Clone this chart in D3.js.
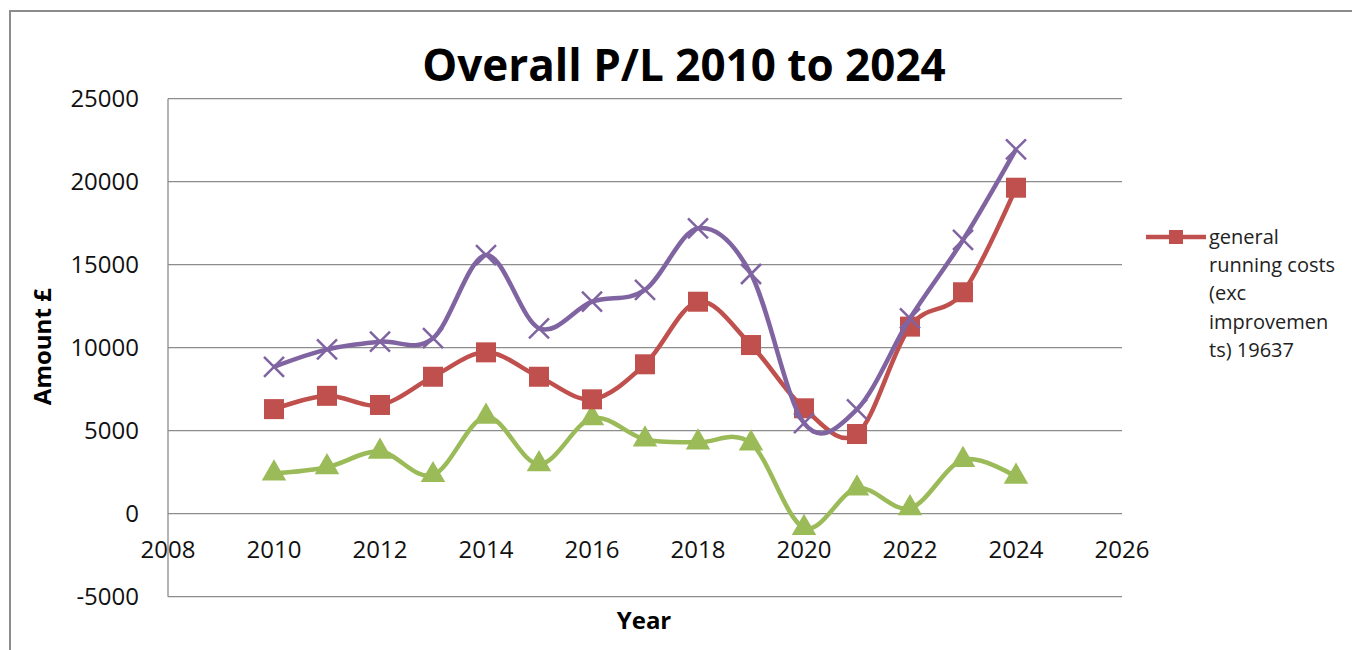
<!DOCTYPE html>
<html lang="en">
<head>
  <meta charset="UTF-8" />
  <title>Overall P/L 2010 to 2024</title>
  <style>
    body { margin: 0; background: #fff; font-family: "Open Sans", Arial, sans-serif; }
    svg { display: block; }
    .grid line { stroke: #8c8c8c; stroke-width: 1.3px; }
    .tick-label { font-size: 24px; fill: #111; }
  </style>
</head>
<body>
  <svg width="1352" height="650"></svg>

  <script src="https://cdnjs.cloudflare.com/ajax/libs/d3/7.8.5/d3.min.js"></script>
  <script>
    // data
    const years = [2010, 2011, 2012, 2013, 2014, 2015, 2016, 2017, 2018, 2019, 2020, 2021, 2022, 2023, 2024];
    const runningCosts = [6300, 7100, 6550, 8250, 9720, 8250, 6890, 9000, 12770, 10160, 6350, 4800, 11270, 13340, 19637];
    const totalCosts = [8850, 9900, 10360, 10570, 15580, 11170, 12770, 13480, 17190, 14440, 5450, 6290, 11770, 16490, 21950];
    const profitLoss = [2430, 2800, 3740, 2330, 5840, 2980, 5750, 4480, 4300, 4240, -850, 1530, 330, 3240, 2230];
    const xTicks = [2008, 2010, 2012, 2014, 2016, 2018, 2020, 2022, 2024, 2026];
    const yTicks = [-5000, 0, 5000, 10000, 15000, 20000, 25000];
    const legendLines = ["general", "running costs", "(exc", "improvemen", "ts) 19637"];

    const svg = d3.select("svg");

    // outer chart frame
    svg.append("rect")
      .attr("x", 10).attr("y", 11)
      .attr("width", 1360).attr("height", 660)
      .attr("fill", "none")
      .attr("stroke", "#8c8c8c")
      .attr("stroke-width", 2);

    const plot = { left: 168, right: 1122, top: 98.7, bottom: 596.7 };

    const x = d3.scaleLinear().domain([2008, 2026]).range([plot.left, plot.right]);
    const y = d3.scaleLinear().domain([-5000, 25000]).range([plot.bottom, plot.top]);

    // horizontal gridlines
    svg.append("g").attr("class", "grid")
      .selectAll("line")
      .data(yTicks)
      .join("line")
      .attr("x1", plot.left).attr("x2", plot.right)
      .attr("y1", d => y(d)).attr("y2", d => y(d));

    // vertical axis line
    svg.append("line")
      .attr("x1", plot.left).attr("x2", plot.left)
      .attr("y1", plot.top).attr("y2", plot.bottom)
      .attr("stroke", "#8c8c8c").attr("stroke-width", 1.3);

    // y tick labels
    svg.append("g")
      .selectAll("text")
      .data(yTicks)
      .join("text")
      .attr("class", "tick-label")
      .attr("x", 139)
      .attr("y", d => y(d))
      .attr("dy", "0.35em")
      .attr("text-anchor", "end")
      .text(d => d);

    // x tick labels (sit below the zero line)
    svg.append("g")
      .selectAll("text")
      .data(xTicks)
      .join("text")
      .attr("class", "tick-label")
      .attr("x", d => x(d))
      .attr("y", y(0) + 36)
      .attr("dy", "0.35em")
      .attr("text-anchor", "middle")
      .text(d => d);

    // title
    svg.append("text")
      .attr("x", 684).attr("y", 81)
      .attr("text-anchor", "middle")
      .attr("font-size", "44px")
      .attr("font-weight", "bold")
      .text("Overall P/L 2010 to 2024");

    // axis titles
    svg.append("text")
      .attr("transform", `translate(51,${(plot.top + plot.bottom) / 2 - 1}) rotate(-90)`)
      .attr("text-anchor", "middle")
      .attr("font-size", "24px")
      .attr("font-weight", "bold")
      .text("Amount £");

    svg.append("text")
      .attr("x", 644).attr("y", 629)
      .attr("text-anchor", "middle")
      .attr("font-size", "24px")
      .attr("font-weight", "bold")
      .text("Year");

    const line = d3.line()
      .x(d => x(d[0]))
      .y(d => y(d[1]))
      .curve(d3.curveCatmullRom.alpha(0));

    const series = [
      { values: profitLoss, color: "#9BBB59", marker: "triangle" },
      { values: runningCosts, color: "#C0504D", marker: "square" },
      { values: totalCosts, color: "#8064A2", marker: "cross" }
    ];

    series.forEach(s => {
      const pts = years.map((yr, i) => [yr, s.values[i]]);
      const g = svg.append("g");
      g.append("path")
        .datum(pts)
        .attr("d", line)
        .attr("fill", "none")
        .attr("stroke", s.color)
        .attr("stroke-width", 4.5)
        .attr("stroke-linejoin", "round");

      if (s.marker === "square") {
        g.selectAll("rect")
          .data(pts)
          .join("rect")
          .attr("x", d => x(d[0]) - 10)
          .attr("y", d => y(d[1]) - 10)
          .attr("width", 20).attr("height", 20)
          .attr("fill", s.color);
      } else if (s.marker === "triangle") {
        g.selectAll("path.m")
          .data(pts)
          .join("path")
          .attr("class", "m")
          .attr("d", d3.symbol(d3.symbolTriangle, 260))
          .attr("transform", d => `translate(${x(d[0])},${y(d[1])})`)
          .attr("fill", s.color);
      } else {
        g.selectAll("path.m")
          .data(pts)
          .join("path")
          .attr("class", "m")
          .attr("d", "M-10,-10L10,10M-10,10L10,-10")
          .attr("transform", d => `translate(${x(d[0])},${y(d[1])})`)
          .attr("stroke", s.color)
          .attr("stroke-width", 2.5);
      }
    });

    // legend (only the running-costs entry is shown)
    const legend = svg.append("g");
    legend.append("line")
      .attr("x1", 1146).attr("x2", 1206)
      .attr("y1", 237).attr("y2", 237)
      .attr("stroke", "#C0504D").attr("stroke-width", 4.5);
    legend.append("rect")
      .attr("x", 1169).attr("y", 230)
      .attr("width", 14).attr("height", 14)
      .attr("fill", "#C0504D");
    legend.selectAll("text")
      .data(legendLines)
      .join("text")
      .attr("x", 1209)
      .attr("y", (d, i) => 237 + i * 28.2)
      .attr("dy", "0.35em")
      .attr("font-size", "20px")
      .attr("fill", "#222")
      .text(d => d);
  </script>
</body>
</html>
